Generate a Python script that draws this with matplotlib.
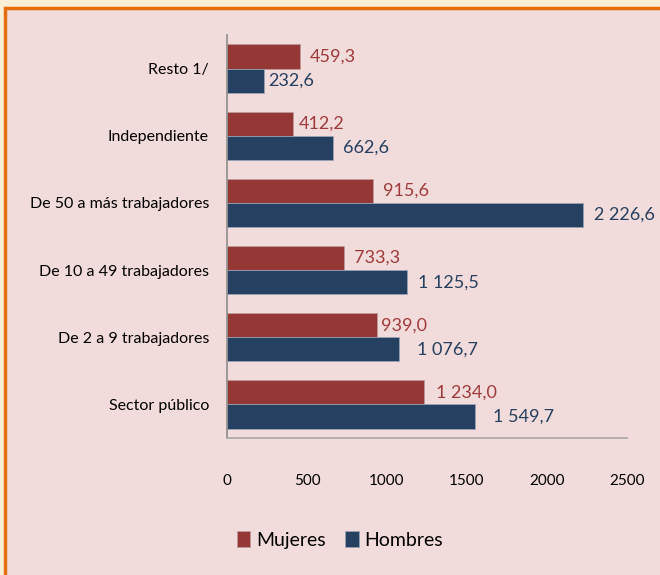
import matplotlib
matplotlib.use("Agg")
import matplotlib.pyplot as plt
from matplotlib.patches import Rectangle

# data, bottom category first
categories = ["Sector público", "De 2 a 9 trabajadores", "De 10 a 49 trabajadores",
              "De 50 a más trabajadores", "Independiente", "Resto 1/"]
mujeres = [1234.0, 939.0, 733.3, 915.6, 412.2, 459.3]
hombres = [1549.7, 1076.7, 1125.5, 2226.6, 662.6, 232.6]
xticks = [0, 500, 1000, 1500, 2000, 2500]

# label gaps from bar end, in points
gap_m = [8, 3, 7, 7, 4, 7]
gap_h = [13, 13, 8, 8, 7, 3]

RED = "#953735"
BLUE = "#254061"
FONT = ["Lato", "DejaVu Sans"]


def fmt(v):
    s = "{:,.1f}".format(v)
    return s.replace(",", " ").replace(".", ",")


def main():
    plt.rcParams["font.family"] = FONT
    fig = plt.figure(figsize=(6.6, 5.75), dpi=100, facecolor="#FDEFD6")

    # pink panel with orange frame on top/left
    panel = Rectangle((5 / 660, -0.1), 1.2, 1 - 8 / 575 + 0.1,
                      transform=fig.transFigure, facecolor="#F2DCDB",
                      edgecolor="#E46C0A", linewidth=2.5, zorder=-10)
    fig.add_artist(panel)

    ax = fig.add_axes([227 / 660, 1 - 438 / 575, 400 / 660, 403 / 575])
    ax.set_facecolor("none")

    y = list(range(len(categories)))
    h = 0.36
    ax.barh([v + h / 2 for v in y], mujeres, height=h, color=RED,
            edgecolor="#B9A0A0", linewidth=0.5, label="Mujeres")
    ax.barh([v - h / 2 for v in y], hombres, height=h, color=BLUE,
            edgecolor="#9BA8BA", linewidth=0.5, label="Hombres")

    for i in y:
        ax.annotate(fmt(mujeres[i]), (mujeres[i], i + h / 2), xytext=(gap_m[i], 0),
                    textcoords="offset points", va="center", ha="left",
                    fontsize=13, color="#A03A3A")
        ax.annotate(fmt(hombres[i]), (hombres[i], i - h / 2), xytext=(gap_h[i], 0),
                    textcoords="offset points", va="center", ha="left",
                    fontsize=13, color="#243F60")

    ax.set_xlim(0, 2500)
    ax.set_ylim(-0.5, 5.5)
    ax.set_xticks(xticks)
    ax.set_xticklabels([str(t) for t in xticks], fontsize=11)
    ax.set_yticks(y)
    ax.set_yticklabels(categories, fontsize=11.5)
    ax.tick_params(axis="x", length=0, pad=26)
    ax.tick_params(axis="y", length=0, pad=13)

    for s in ["top", "right"]:
        ax.spines[s].set_visible(False)
    ax.spines["left"].set_color("#8C8C8C")
    ax.spines["bottom"].set_color("#A6A6A6")
    ax.spines["left"].set_linewidth(1.2)
    ax.spines["bottom"].set_linewidth(1.2)

    fig.legend(loc="center", bbox_to_anchor=(340 / 660, 1 - 540 / 575), ncol=2,
               frameon=False, fontsize=14, handlelength=0.7, handleheight=0.9,
               handletextpad=0.3, columnspacing=1.0)

    fig.savefig("out.png", dpi=100, facecolor=fig.get_facecolor())


if __name__ == "__main__":
    main()
